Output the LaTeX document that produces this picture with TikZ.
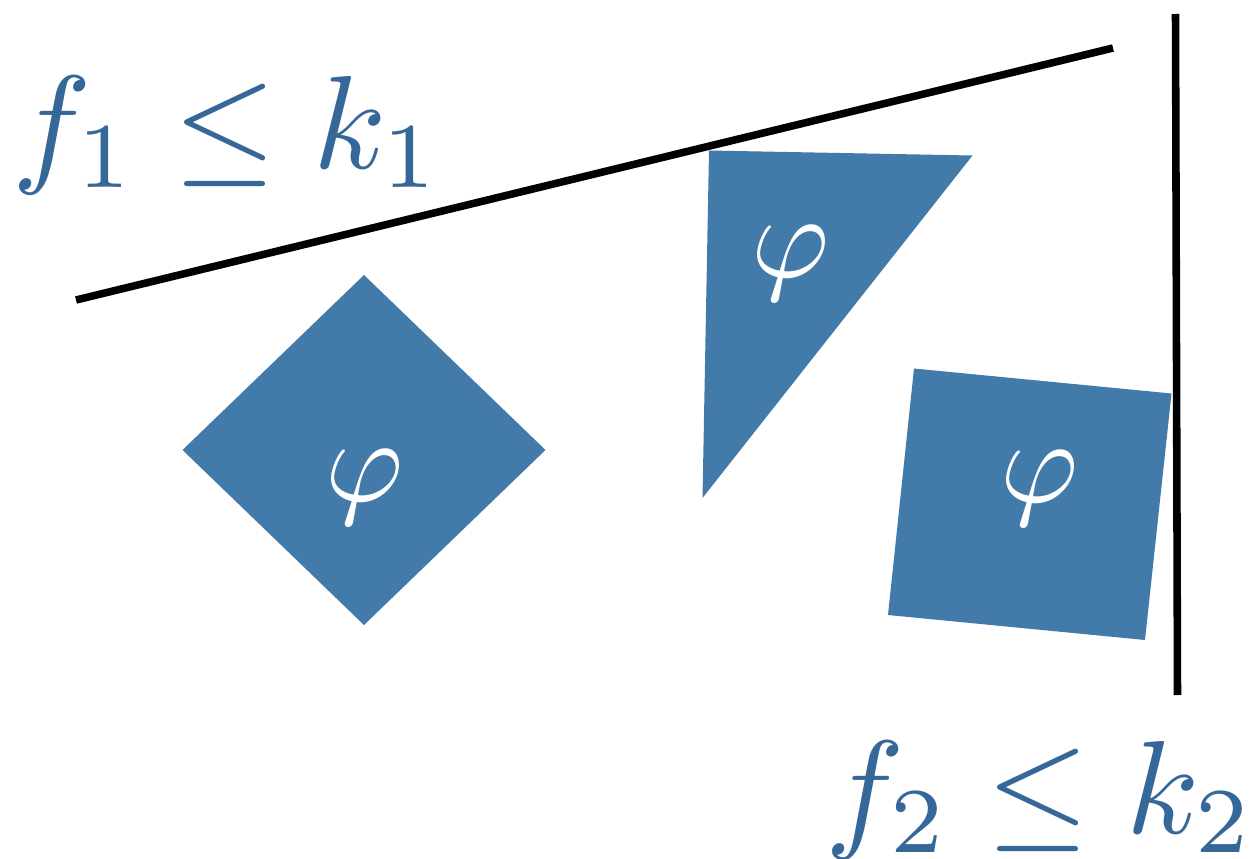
\documentclass[tikz,border=0pt]{standalone}
\usepackage{amsmath,amssymb}
\usepackage{tikz}
\usetikzlibrary{calc}
\definecolor{regblue}{RGB}{66,122,170}
\definecolor{txtblue}{RGB}{53,104,152}

\begin{document}
\begin{tikzpicture}[x=0.02cm,y=-0.02cm,
    region/.style={fill=regblue,draw=none},
    phi/.style={text=white,scale=6.8,inner sep=0pt},
    bound/.style={line width=4.3pt,black},
    cons/.style={text=txtblue,scale=7.55,inner sep=0pt,anchor=base}]
        \useasboundingbox (0,0) rectangle (1249,859);
        % constraint boundaries
        \coordinate (l1a) at (76,300);
        \coordinate (l1b) at (1113,48);
        \coordinate (l2a) at (1175.5,14);
        \coordinate (l2b) at (1177.5,695);
        \draw[bound] (l1a)--(l1b);
        \draw[bound] (l2a)--(l2b);
        % regions
        \fill[region] (364,275)--(545.5,450)--(364,625)--(182.5,450)--cycle;
        \fill[region] (709,150.5)--(972.5,155.5)--(702.5,498)--cycle;
        \fill[region] (914,368.5)--(1171.5,393.5)--(1145,640)--(888,615)--cycle;
        \node[phi] (phia) at (365,487) {$\varphi$};
        \node[phi] (phib) at (791,263) {$\varphi$};
        \node[phi] (phic) at (1040,488) {$\varphi$};
        % labels
        \node[cons] (c1) at (227,168) {$f_1 \leq k_1$};
        \node[cons] (c2) at (1040,833) {$f_2 \leq k_2$};
      \end{tikzpicture}
\end{document}
